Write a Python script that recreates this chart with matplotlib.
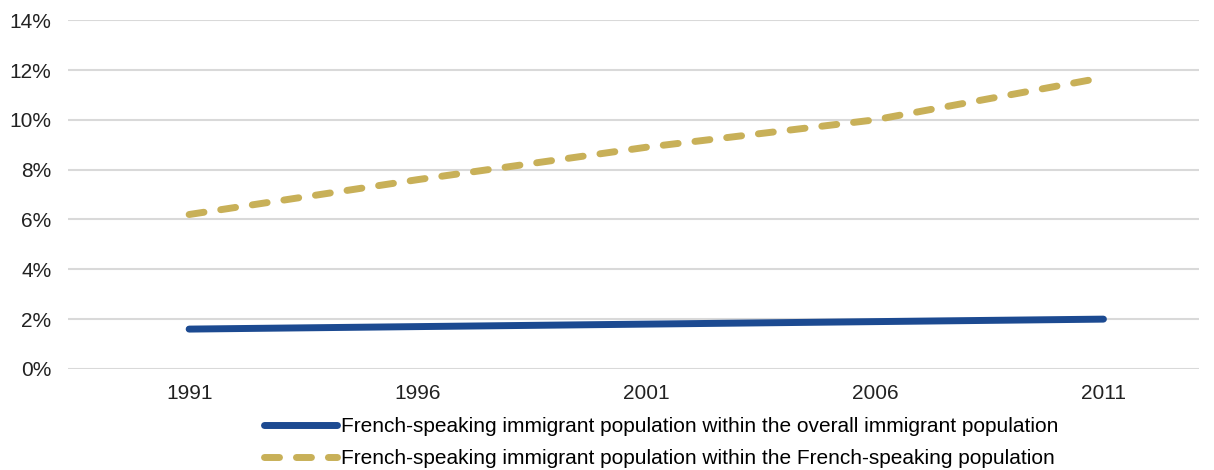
import matplotlib.pyplot as plt
from matplotlib.ticker import FuncFormatter

plt.rcParams['font.family'] = ['Liberation Sans', 'DejaVu Sans']
plt.rcParams['lines.scale_dashes'] = False

years = ["1991", "1996", "2001", "2006", "2011"]
within_immigrant = [1.6, 1.7, 1.8, 1.9, 2.0]
within_french = [6.2, 7.6, 8.9, 10.0, 11.7]
labels = ["French-speaking immigrant population within the overall immigrant population",
          "French-speaking immigrant population within the French-speaking population"]

fig = plt.figure(figsize=(12.14, 4.7), dpi=100)
ax = fig.add_axes([0.056, 0.215, 0.932, 0.742])

x = range(len(years))
ax.plot(x, within_immigrant, color="#1c4a91", lw=5, solid_capstyle="round",
        label=labels[0], zorder=3)
ax.plot(x, within_french, color="#c8b058", lw=5, dashes=(10.8, 12.2),
        dash_capstyle="round", label=labels[1], zorder=3)

ax.set_ylim(0, 14)
ax.set_yticks(range(0, 15, 2))
ax.yaxis.set_major_formatter(FuncFormatter(lambda v, p: "%d%%" % v))
ax.set_xlim(-0.53, 4.42)
ax.set_xticks(list(x))
ax.set_xticklabels(years)
ax.grid(axis="y", color="#d9d9d9", lw=1.5)
ax.set_axisbelow(True)
for s in ax.spines.values():
    s.set_visible(False)
ax.tick_params(length=0, labelsize=15, colors="#222222", pad=11)
ax.tick_params(axis="y", pad=12)

fig.legend(loc="center", bbox_to_anchor=(0.545, 0.058), frameon=False,
           fontsize=15, handlelength=3.5, handletextpad=0.2,
           labelspacing=0.62, borderpad=0)

fig.savefig("out.png", dpi=100)
